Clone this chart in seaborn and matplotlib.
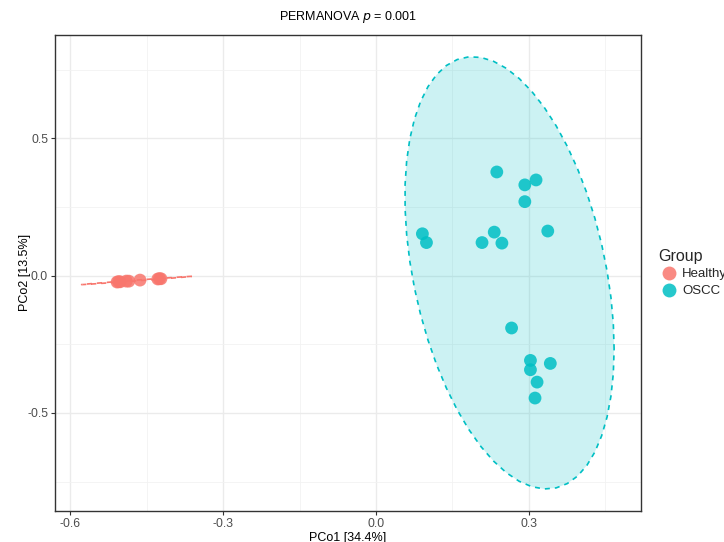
import numpy as np
import pandas as pd
import matplotlib
matplotlib.use("Agg")
import matplotlib.pyplot as plt
import seaborn as sns

# ---- data ----
healthy_x = [-0.508, -0.505, -0.502, -0.490, -0.485, -0.463, -0.428, -0.425, -0.422]
healthy_y = [-0.0237, -0.0224, -0.0228, -0.0203, -0.0205, -0.0166, -0.0126, -0.0114, -0.0117]
oscc_x = [0.237, 0.292, 0.314, 0.292, 0.091, 0.099, 0.232, 0.208, 0.247, 0.337,
          0.266, 0.303, 0.303, 0.342, 0.316, 0.312]
oscc_y = [0.377, 0.330, 0.348, 0.269, 0.152, 0.120, 0.158, 0.120, 0.118, 0.162,
          -0.191, -0.309, -0.343, -0.320, -0.388, -0.446]
groups = ["Healthy", "OSCC"]
colors = ["#F8766D", "#00BFC4"]
x_ticks = [-0.6, -0.3, 0.0, 0.3]
y_ticks = [-0.5, 0.0, 0.5]
x_label = "PCo1 [34.4%]"
y_label = "PCo2 [13.5%]"
title = "PERMANOVA $p$ = 0.001"

df = pd.DataFrame({
    "PCo1": healthy_x + oscc_x,
    "PCo2": healthy_y + oscc_y,
    "Group": ["Healthy"] * len(healthy_x) + ["OSCC"] * len(oscc_x),
})


def ellipse(xs, ys, level=0.95, segments=51):
    data = np.column_stack([xs, ys])
    n = len(data)
    dfd = n - 1
    qf = (dfd / 2) * ((1 - level) ** (-2 / dfd) - 1)  # F(2, dfd) quantile
    radius = np.sqrt(2 * qf)
    center = data.mean(axis=0)
    shape = np.cov(data.T, ddof=1)
    chol = np.linalg.cholesky(shape).T  # upper triangular like R chol
    ang = np.arange(segments + 1) * 2 * np.pi / segments
    circ = np.column_stack([np.cos(ang), np.sin(ang)])
    return center + radius * circ @ chol


sns.set_theme(style="whitegrid")
plt.rcParams["font.family"] = ["Liberation Sans", "DejaVu Sans"]

fig = plt.figure(figsize=(7.24, 5.42), dpi=100)
ax = fig.add_axes([0.076, 0.058, 0.809, 0.877])

ells = []
for g, c, xs, ys in zip(groups, colors, [healthy_x, oscc_x], [healthy_y, oscc_y]):
    e = ellipse(xs, ys)
    ells.append(e)
    ax.fill(e[:, 0], e[:, 1], color=c, alpha=0.2, lw=0, zorder=1)
    ax.plot(e[:, 0], e[:, 1], color=c, lw=1.2, ls=(0, (3, 3)), zorder=2)

sns.scatterplot(data=df, x="PCo1", y="PCo2", hue="Group", hue_order=groups,
                palette=colors, s=85, alpha=0.85, edgecolor="none", ax=ax, zorder=3)

allpts = np.vstack(ells + [df[["PCo1", "PCo2"]].values])
xmin, xmax = allpts[:, 0].min(), allpts[:, 0].max()
ymin, ymax = allpts[:, 1].min(), allpts[:, 1].max()
dx, dy = (xmax - xmin) * 0.05, (ymax - ymin) * 0.05
ax.set_xlim(xmin - dx, xmax + dx)
ax.set_ylim(ymin - dy, ymax + dy)

ax.set_xticks(x_ticks)
ax.set_xticklabels([f"{v:.1f}" for v in x_ticks])
ax.set_yticks(y_ticks)
ax.set_yticklabels([f"{v:.1f}" for v in y_ticks])
ax.set_xticks([-0.45, -0.15, 0.15, 0.45], minor=True)
ax.set_yticks([-0.75, -0.25, 0.25, 0.75], minor=True)
ax.grid(True, which="major", color="#EBEBEB", lw=1.0)
ax.grid(True, which="minor", color="#F2F2F2", lw=0.6)
ax.set_axisbelow(True)
ax.tick_params(axis="both", which="major", length=3, width=0.8, color="#333333",
               labelsize=8.8, labelcolor="#4D4D4D", pad=2, bottom=True, left=True)
ax.tick_params(axis="both", which="minor", length=0)
for sp in ax.spines.values():
    sp.set_color("#333333")
    sp.set_linewidth(1.0)
ax.set_facecolor("white")

ax.set_xlabel(x_label, fontsize=9, color="black", labelpad=2)
ax.set_ylabel(y_label, fontsize=9, color="black", labelpad=-3)
ax.set_title(title, fontsize=9, color="black", pad=11)

handles, labels = ax.get_legend_handles_labels()
for h in handles:
    h.set_markersize(10)
leg = ax.legend(handles, labels, title="Group", loc="center left",
                bbox_to_anchor=(1.01, 0.5), frameon=False, fontsize=9.5,
                title_fontsize=11.5, handletextpad=0.2, borderaxespad=0.5,
                labelspacing=0.35, handlelength=1.6)
leg._legend_box.align = "left"

fig.savefig("out.png", dpi=100)
